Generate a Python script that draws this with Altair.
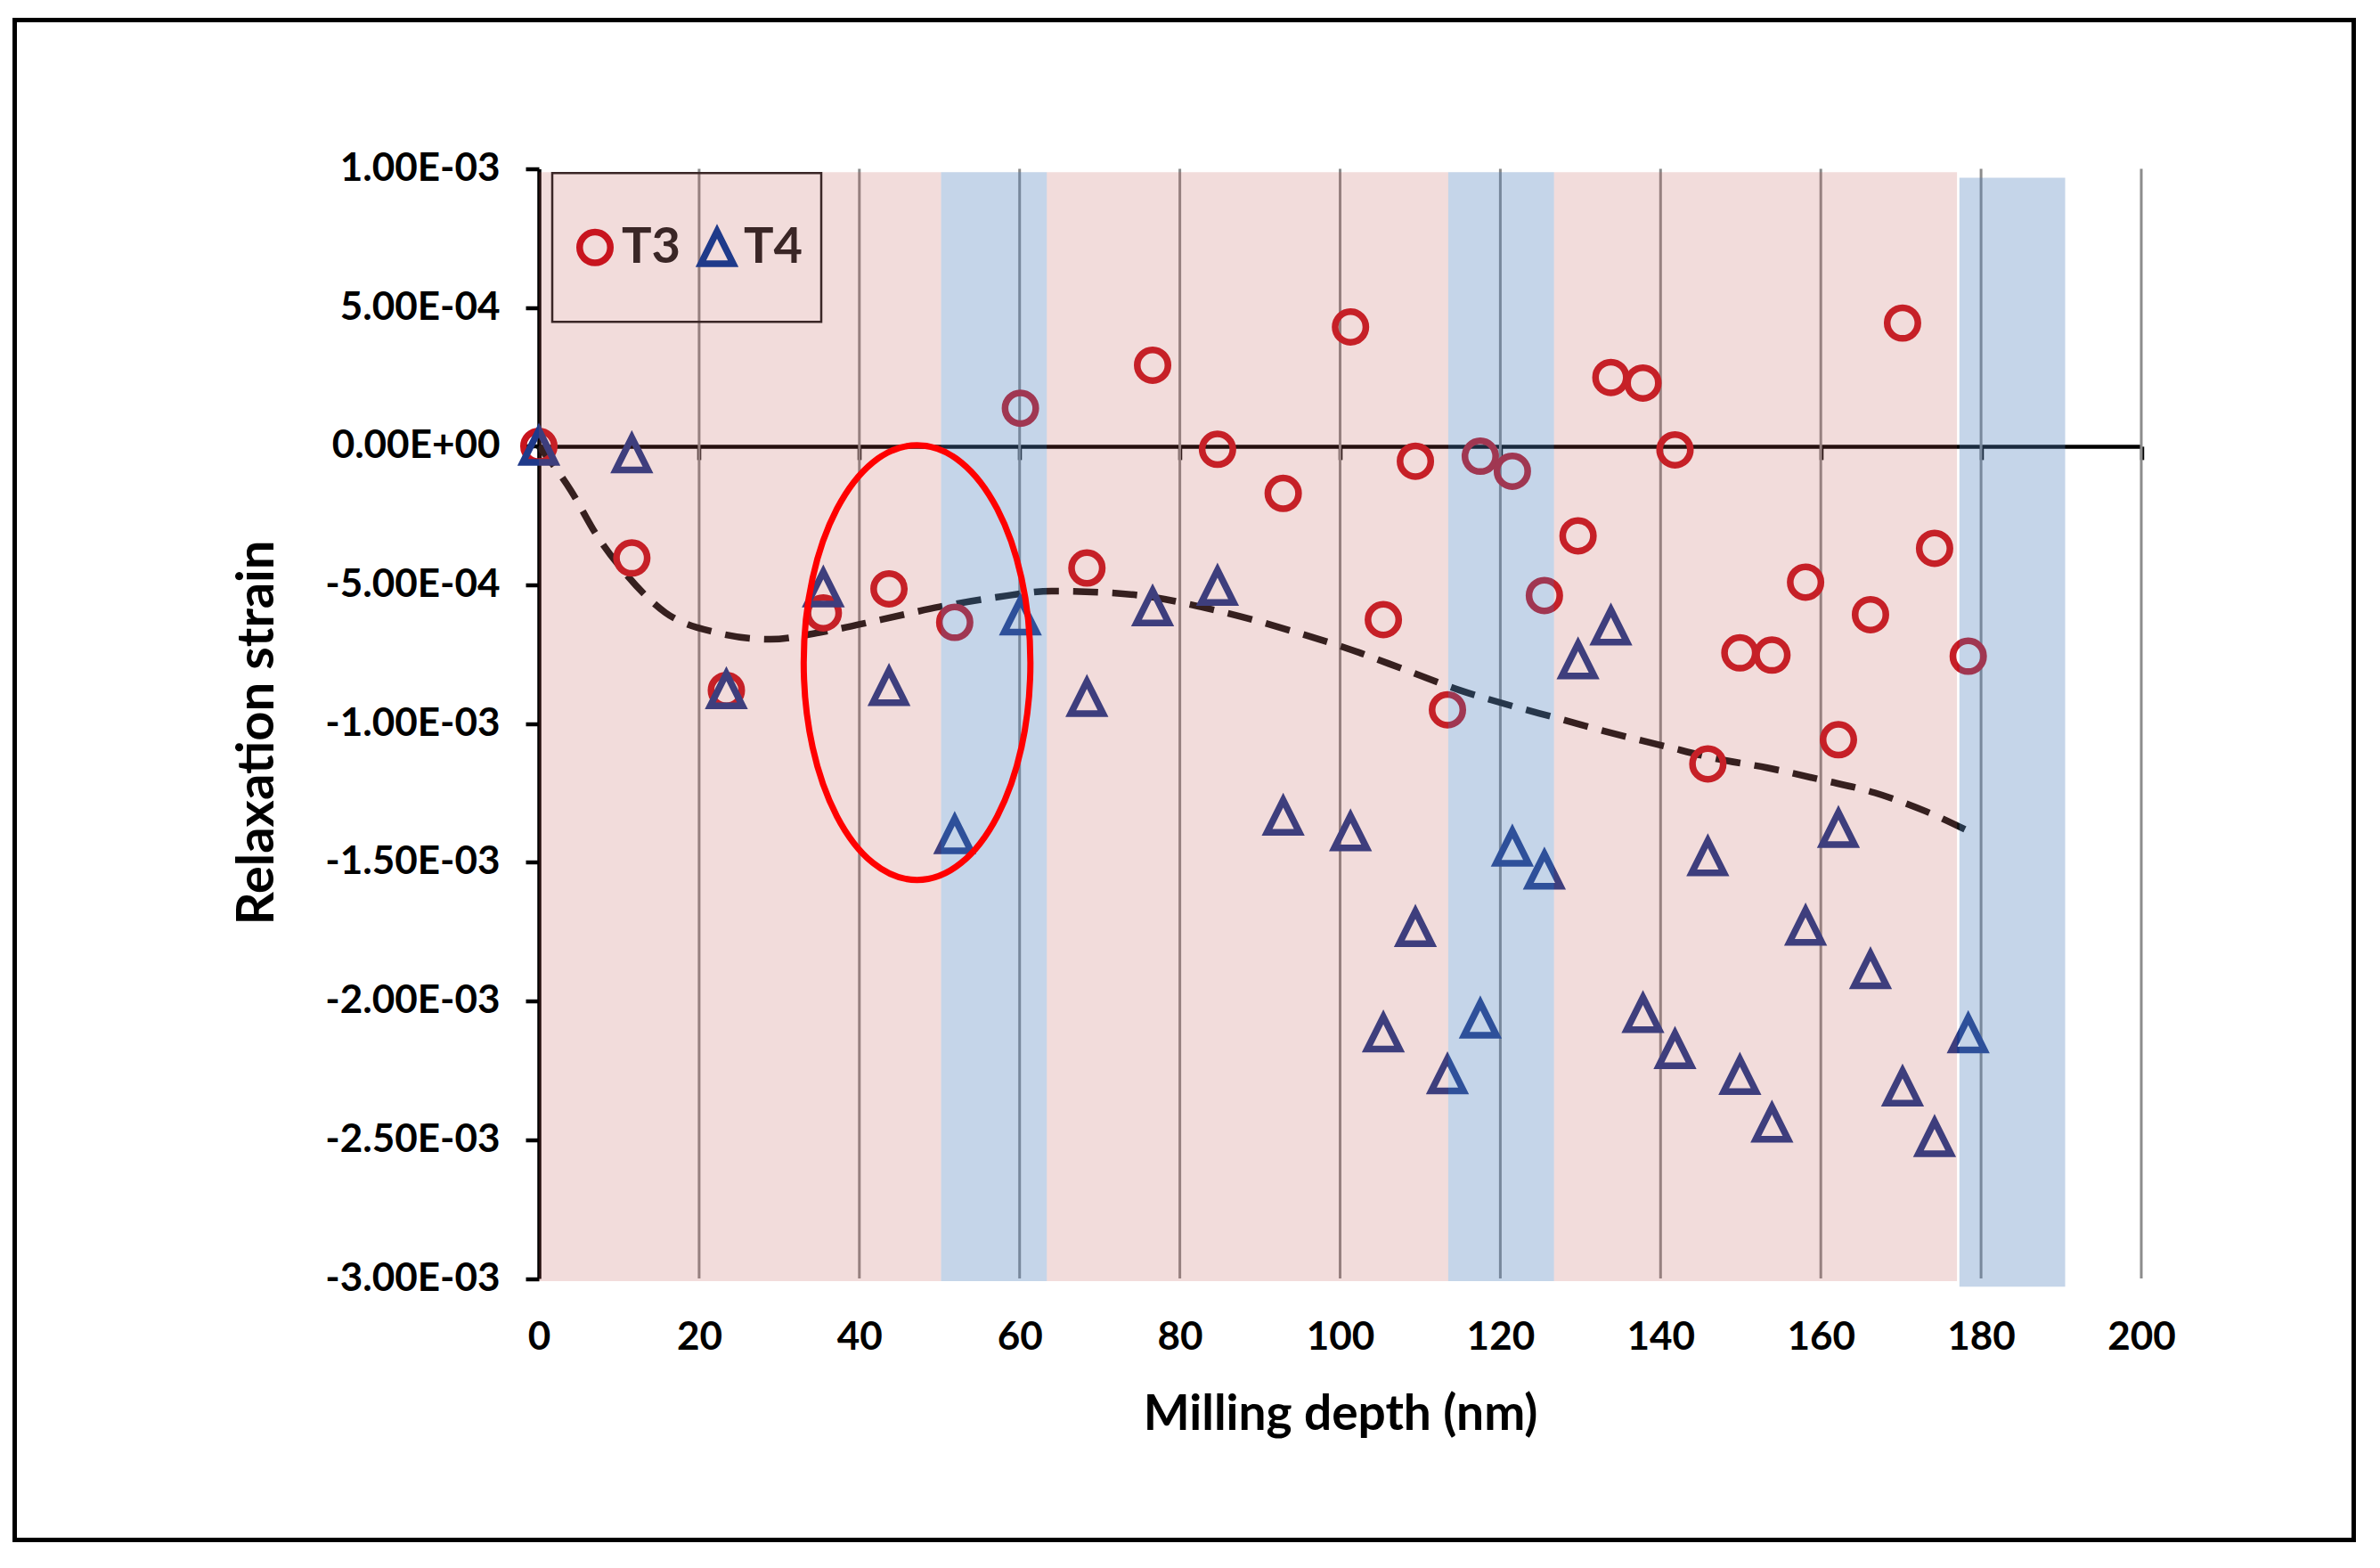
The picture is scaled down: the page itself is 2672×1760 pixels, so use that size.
import altair as alt
import pandas as pd

# ---------------- data ----------------
DEPTH = [0, 11.6, 23.4, 35.5, 43.7, 51.9, 60.1, 68.4, 76.6, 84.7, 92.9,
         101.3, 105.4, 109.4, 113.4, 117.5, 121.5, 125.5, 129.7, 133.8, 137.8,
         141.8, 145.9, 149.9, 153.9, 158.1, 162.2, 166.2, 170.2, 174.2, 178.4]
T3 = [0.0, -0.403e-3, -0.880e-3, -0.601e-3, -0.514e-3, -0.635e-3, 0.137e-3, -0.439e-3,
      0.292e-3, -0.011e-3, -0.170e-3, 0.430e-3, -0.625e-3, -0.054e-3, -0.950e-3, -0.036e-3,
      -0.090e-3, -0.538e-3, -0.323e-3, 0.248e-3, 0.228e-3, -0.013e-3, -1.145e-3, -0.745e-3,
      -0.753e-3, -0.490e-3, -1.058e-3, -0.607e-3, 0.444e-3, -0.368e-3, -0.757e-3]
T4 = [0.0, -0.027e-3, -0.878e-3, -0.511e-3, -0.866e-3, -1.400e-3, -0.612e-3, -0.906e-3,
      -0.579e-3, -0.505e-3, -1.334e-3, -1.390e-3, -2.115e-3, -1.735e-3, -2.266e-3, -2.065e-3,
      -1.445e-3, -1.528e-3, -0.770e-3, -0.648e-3, -2.045e-3, -2.175e-3, -1.480e-3, -2.268e-3,
      -2.440e-3, -1.730e-3, -1.378e-3, -1.887e-3, -2.310e-3, -2.492e-3, -2.118e-3]
SERIES = ["T3", "T4"]

TREND_X = [0, 4, 7.2, 10.7, 15.8, 21.9, 28.9, 35.3, 42.9, 50, 57, 64, 70.4, 76.8, 82.6,
           88.9, 95, 100.2, 108.5, 114.9, 121.3, 127.1, 133.5, 140.5, 146.9, 153.3, 160.3,
           166.7, 173.1, 178.6]
TREND_Y = [0.0, -0.16e-3, -0.32e-3, -0.455e-3, -0.60e-3, -0.67e-3, -0.696e-3, -0.67e-3,
           -0.624e-3, -0.579e-3, -0.545e-3, -0.522e-3, -0.527e-3, -0.545e-3, -0.579e-3,
           -0.624e-3, -0.675e-3, -0.722e-3, -0.81e-3, -0.879e-3, -0.935e-3, -0.98e-3,
           -1.031e-3, -1.081e-3, -1.126e-3, -1.159e-3, -1.204e-3, -1.249e-3, -1.316e-3, -1.39e-3]

BAND_START = [0, 50.2, 63.4, 113.5, 126.7, 177.3]
BAND_END = [50.2, 63.4, 113.5, 126.7, 177.0, 190.5]
BAND_TOP = [0.988e-3, 0.988e-3, 0.988e-3, 0.988e-3, 0.988e-3, 0.968e-3]
BAND_BOTTOM = [-3.01e-3, -3.01e-3, -3.01e-3, -3.01e-3, -3.01e-3, -3.03e-3]
BAND_KIND = ["pink", "blue", "pink", "blue", "pink", "blue"]

X_DOMAIN = [0, 200]
Y_DOMAIN = [-3e-3, 1e-3]
X_TICKS = [0, 20, 40, 60, 80, 100, 120, 140, 160, 180, 200]
GRID_X = [20, 40, 60, 80, 100, 120, 140, 160, 180, 200]
Y_TICKS = [-3e-3, -2.5e-3, -2e-3, -1.5e-3, -1e-3, -0.5e-3, 0.0, 0.5e-3, 1e-3]

ELLIPSE_X = [47.2]
ELLIPSE_Y = [-0.78e-3]

# ---------------- layout (pixels) ----------------
VIEW_W, VIEW_H = 2626, 1706          # the framed area
PLOT_L, PLOT_R = 588.5, 2387.5       # plot area inside the frame
PLOT_T, PLOT_B = 167.0, 1412.5
ZERO_Y = PLOT_T + (Y_DOMAIN[1] - 0) / (Y_DOMAIN[1] - Y_DOMAIN[0]) * (PLOT_B - PLOT_T)

FONT = "Lato"
MARK_SIZE = 1190
TRI = "M0,-1.05L1.05,1.05L-1.05,1.05Z"
ELL = ("M0,-1C0.288,-1,0.5215,-0.5523,0.5215,0C0.5215,0.5523,0.288,1,0,1"
       "C-0.288,1,-0.5215,0.5523,-0.5215,0C-0.5215,-0.5523,-0.288,-1,0,-1Z")

xs = alt.Scale(domain=X_DOMAIN, range=[PLOT_L, PLOT_R], nice=False, zero=False)
ys = alt.Scale(domain=Y_DOMAIN, range=[PLOT_B, PLOT_T], nice=False, zero=False)

# ---------------- tables ----------------
pts = pd.DataFrame({
    "depth": DEPTH + DEPTH,
    "strain": T3 + T4,
    "series": [SERIES[0]] * len(DEPTH) + [SERIES[1]] * len(DEPTH),
})
trend = pd.DataFrame({"depth": TREND_X, "strain": TREND_Y})
bands = pd.DataFrame({"x0": BAND_START, "x1": BAND_END, "y0": BAND_BOTTOM,
                      "y1": BAND_TOP, "kind": BAND_KIND})
grid = pd.DataFrame({"gx": GRID_X, "y0": [Y_DOMAIN[0]] * len(GRID_X),
                     "y1": [Y_DOMAIN[1]] * len(GRID_X)})
ell = pd.DataFrame({"ex": ELLIPSE_X, "ey": ELLIPSE_Y})

# ---------------- axes ----------------
x_label_axis = alt.Axis(
    orient="bottom", offset=PLOT_B - VIEW_H, values=X_TICKS, domain=False,
    ticks=False, tickSize=0, grid=False, labelFlush=False, labelPadding=44,
    labelFont=FONT, labelFontSize=44, labelFontWeight="bold", labelColor="black",
    title="Milling depth (nm)", titleFont=FONT, titleFontSize=55,
    titleFontWeight="bold", titleColor="black", titleY=126, titleBaseline="top",
)
x_zero_axis = alt.Axis(
    orient="bottom", offset=ZERO_Y - VIEW_H, values=X_TICKS, domain=True,
    domainColor="black", domainWidth=4.5, ticks=True, tickColor="black",
    tickWidth=4.5, tickSize=15, labels=False, grid=False, title=None,
)
Y_LABEL_EXPR = ("replace(replace(replace(upper(format(datum.value, '.2e')), "
                "'E-', 'E-0'), 'E+', 'E+0'), '\u2212', '-')")
y_axis = alt.Axis(
    orient="left", offset=-PLOT_L, values=Y_TICKS, grid=False,
    domainColor="black", domainWidth=4.5, tickColor="black", tickWidth=4.5,
    tickSize=15, labelPadding=29, labelLimit=600,
    labelExpr=Y_LABEL_EXPR,
    labelFont=FONT, labelFontSize=44, labelFontWeight="bold", labelColor="black",
    title="Relaxation strain", titleFont=FONT, titleFontSize=58,
    titleFontWeight="bold", titleColor="black", titleX=-316, titleY=799.5,
    titleBaseline="middle", titleAngle=270,
)

legend = alt.Legend(
    orient="none", legendX=603.5, legendY=171.8, direction="horizontal",
    title=None, padding=20, strokeColor="#3a2626",
    symbolSize=MARK_SIZE, symbolStrokeWidth=7.5,
    labelFont=FONT, labelFontSize=56, labelFontWeight="bold",
    labelColor="#3a2626", labelOffset=2, columnPadding=12,
)

# ---------------- layers ----------------
grid_layer = alt.Chart(grid).mark_rule(color="#8c8c8c", strokeWidth=3).encode(
    x=alt.X("gx:Q", scale=xs, axis=x_label_axis),
    y=alt.Y("y0:Q", scale=ys, axis=None),
    y2="y1:Q",
)

trend_layer = alt.Chart(trend).mark_line(
    color="#141414", strokeWidth=7.5, strokeDash=[28, 16], interpolate="monotone"
).encode(
    x=alt.X("depth:Q", scale=xs, axis=None),
    y=alt.Y("strain:Q", scale=ys, axis=None),
)

point_layer = alt.Chart(pts).mark_point(
    filled=False, size=MARK_SIZE, strokeWidth=7.5, opacity=1
).encode(
    x=alt.X("depth:Q", scale=xs, axis=x_zero_axis),
    y=alt.Y("strain:Q", scale=ys, axis=y_axis),
    color=alt.Color("series:N", scale=alt.Scale(domain=SERIES, range=["#C8141E", "#1F3A8A"]),
                    legend=legend),
    shape=alt.Shape("series:N", scale=alt.Scale(domain=SERIES, range=["circle", TRI]),
                    legend=legend),
)

band_layer = alt.Chart(bands).mark_rect(strokeWidth=0).encode(
    x=alt.X("x0:Q", scale=xs, axis=None),
    x2="x1:Q",
    y=alt.Y("y0:Q", scale=ys, axis=None),
    y2="y1:Q",
    fill=alt.Fill("kind:N", scale=alt.Scale(
        domain=["pink", "blue"],
        range=["rgba(192,80,77,0.2)", "rgba(79,129,189,0.33)"]), legend=None),
)

ellipse_layer = alt.Chart(ell).mark_point(
    shape=ELL, size=488 * 488, filled=False, color="#FF0000", strokeWidth=7, opacity=1
).encode(
    x=alt.X("ex:Q", scale=xs, axis=None),
    y=alt.Y("ey:Q", scale=ys, axis=None),
)

chart = alt.layer(
    grid_layer, trend_layer, point_layer, band_layer, ellipse_layer
).resolve_axis(x="independent", y="independent").properties(
    width=VIEW_W, height=VIEW_H,
    autosize=alt.AutoSizeParams(type="none"),
    padding={"left": 8.5, "top": 14.5, "right": 10, "bottom": 10},
).configure_view(stroke="black", strokeWidth=5).configure_legend(
    clipHeight=127, strokeWidth=2.5
)

chart.save("out.html", embed_options={"renderer": "svg", "actions": False})
